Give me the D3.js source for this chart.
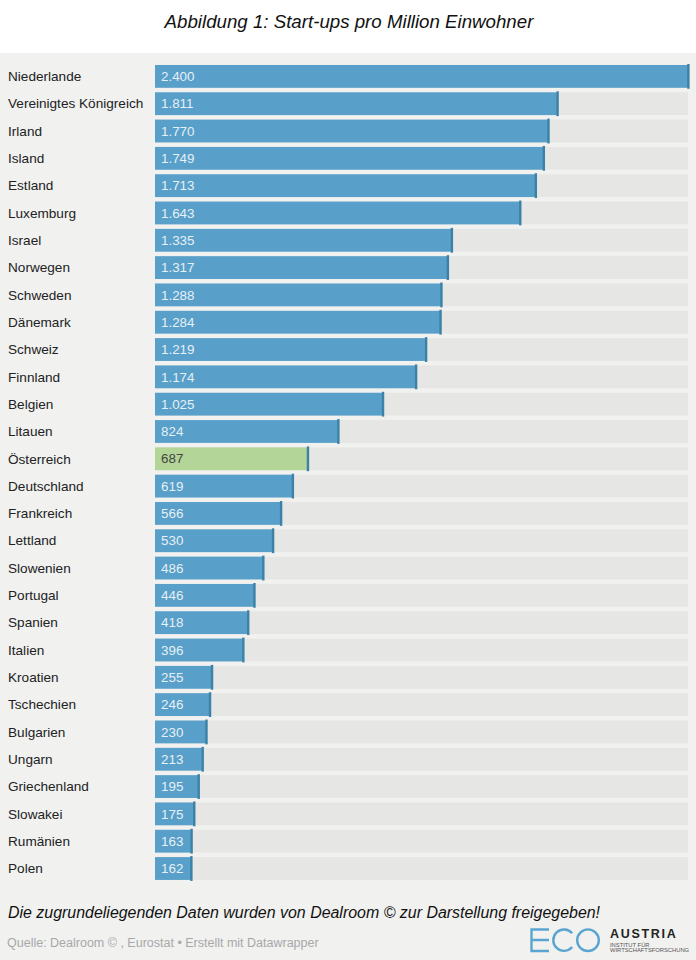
<!DOCTYPE html>
<html>
<head>
<meta charset="utf-8">
<script src="https://cdn.jsdelivr.net/npm/d3@7"></script>
<style>
  html, body { margin: 0; padding: 0; background: #fff; }
  text { font-family: "Liberation Sans", Arial, sans-serif; }
</style>
</head>
<body>
<script>
const width = 696;
const height = 960;

const countries = ["Niederlande", "Vereinigtes Königreich", "Irland", "Island", "Estland", "Luxemburg", "Israel", "Norwegen", "Schweden", "Dänemark", "Schweiz", "Finnland", "Belgien", "Litauen", "Österreich", "Deutschland", "Frankreich", "Lettland", "Slowenien", "Portugal", "Spanien", "Italien", "Kroatien", "Tschechien", "Bulgarien", "Ungarn", "Griechenland", "Slowakei", "Rumänien", "Polen"];
const startups = [2400, 1811, 1770, 1749, 1713, 1643, 1335, 1317, 1288, 1284, 1219, 1174, 1025, 824, 687, 619, 566, 530, 486, 446, 418, 396, 255, 246, 230, 213, 195, 175, 163, 162];
const highlight = "Österreich";

const blue = "#589fc9";
const tickBlue = "#3b82a6";
const green = "#b3d698";

const svg = d3.select("body").append("svg")
  .attr("width", width)
  .attr("height", height)
  .style("display", "block");

svg.append("rect").attr("x", 0).attr("y", 53).attr("width", width).attr("height", height - 53).attr("fill", "#f1f1f0");

svg.append("text")
  .attr("x", 349).attr("y", 27.5)
  .attr("text-anchor", "middle")
  .attr("font-size", 18.7)
  .attr("font-style", "italic")
  .attr("fill", "#111")
  .text("Abbildung 1: Start-ups pro Million Einwohner");

const x = d3.scaleLinear().domain([0, 2400]).range([155, 688]);
const y = d3.scaleBand().domain(countries).range([62.8, 882.1]).paddingInner(0.165).paddingOuter(0.08);

const rows = svg.selectAll("g.row")
  .data(countries)
  .enter()
  .append("g")
  .attr("class", "row")
  .attr("transform", (d) => `translate(0,${y(d)})`);

rows.append("text")
  .attr("x", 8)
  .attr("y", y.bandwidth() / 2)
  .attr("dy", "0.35em")
  .attr("font-size", 13.6)
  .attr("fill", "#222")
  .text((d) => d);

rows.append("rect")
  .attr("x", x(0))
  .attr("width", x(2400) - x(0))
  .attr("height", y.bandwidth())
  .attr("fill", "#e6e6e5");

rows.append("rect")
  .attr("x", x(0))
  .attr("width", (d, i) => x(startups[i]) - x(0))
  .attr("height", y.bandwidth())
  .attr("fill", (d) => d === highlight ? green : blue);

rows.append("rect")
  .attr("x", (d, i) => x(startups[i]) - 0.8)
  .attr("y", -1)
  .attr("width", 2.4)
  .attr("height", y.bandwidth() + 2)
  .attr("fill", tickBlue);

rows.append("text")
  .attr("x", x(0) + 6)
  .attr("y", y.bandwidth() / 2)
  .attr("dy", "0.35em")
  .attr("font-size", 13.4)
  .attr("fill", (d) => d === highlight ? "#444" : "#e6f0f6")
  .text((d, i) => d3.format(",")(startups[i]).replace(/,/g, "."));

svg.append("text")
  .attr("x", 8).attr("y", 918)
  .attr("font-size", 15.95)
  .attr("font-style", "italic")
  .attr("fill", "#111")
  .text("Die zugrundeliegenden Daten wurden von Dealroom © zur Darstellung freigegeben!");

svg.append("text")
  .attr("x", 7).attr("y", 946.5)
  .attr("font-size", 12.5)
  .attr("fill", "#a8a8a8")
  .text("Quelle: Dealroom © , Eurostat • Erstellt mit Datawrapper");

// logo
const logo = svg.append("g").attr("fill", "none").attr("stroke", "#5aa5d0").attr("stroke-width", 2.4);
logo.append("path").attr("d", "M549 929.5H531.5V951H549M531.5 940H549");
logo.append("path")
  .attr("d", d3.arc()({ innerRadius: 10.7, outerRadius: 10.7, startAngle: Math.PI / 2 + 0.7, endAngle: Math.PI * 2.5 - 0.7 }))
  .attr("transform", "translate(564,940.2)");
logo.append("circle").attr("cx", 588).attr("cy", 940.2).attr("r", 10.8);

svg.append("text").attr("x", 610).attr("y", 937.5).attr("font-size", 12.5).attr("font-weight", 700).attr("letter-spacing", 1.7).attr("fill", "#222").text("AUSTRIA");
svg.append("text").attr("x", 610).attr("y", 946.5).attr("font-size", 5.8).attr("fill", "#555").text("INSTITUT FÜR");
svg.append("text").attr("x", 610).attr("y", 952.3).attr("font-size", 5.8).attr("fill", "#555").text("WIRTSCHAFTSFORSCHUNG");
</script>
</body>
</html>
